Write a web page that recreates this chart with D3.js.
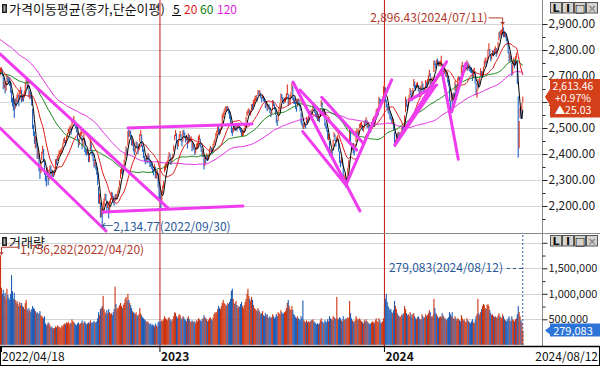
<!DOCTYPE html>
<html>
<head>
<meta charset="utf-8">
<script src="https://cdn.jsdelivr.net/npm/d3@7"></script>
<style>
  body { margin: 0; background: #fff; }
  svg { display: block; font-family: "Noto Sans CJK KR", "Noto Sans", sans-serif; }
</style>
</head>
<body>
<svg id="chart" width="600" height="366"></svg>
<script>
// closes before the first visible day (2021/10/25 - 2022/04/15), only used for the moving averages
const priorCloses = [
  3020,3049,3025,3009,2970,
  2983,2977,2975,2983,2969,2960,2962,2924,2929,2968,3000,2997,2962,2947,2971,3013,2997,2994,2936,2909,2922,2839,
  2899,2945,2968,2973,2991,3001,3029,3010,3002,2989,2987,2962,3006,2963,2975,2984,2998,3012,3020,2999,2993,2977,
  2988,2990,2953,2907,2954,2926,2927,2972,2962,2921,2890,2864,2842,2862,2834,2792,2720,2709,2614,2663,
  2757,2750,2707,2701,2768,2771,2747,2705,2676,2729,2745,2744,2743,2705,2719,2648,2676,2699,
  2703,2713,2680,2651,2622,2680,2661,2645,2621,2659,2707,2694,2686,2702,2729,2730,2736,2729,2741,2746,2757,
  2739,2757,2759,2735,2695,2700,2693,2666,2716,2716,2696
];

// daily closes, one row per month
const close2022 = [
  2693,2718,2718,2728,2705,2657,2668,2639,2667,2695,
  2687,2680,2677,2644,2610,2596,2592,2550,2604,2596,2620,2625,2592,2639,2647,2605,2617,2612,2638,2669,2685,
  2658,2670,2626,2626,2625,2595,2504,2492,2447,2451,2440,2391,2408,2342,2314,2366,2401,2422,2377,2332,
  2305,2300,2341,2292,2334,2350,2340,2317,2328,2322,2330,2375,2370,2386,2393,2403,2403,2412,2415,2435,2451,
  2452,2439,2461,2473,2490,2493,2503,2480,2523,2527,2533,2516,2508,2492,2462,2435,2447,2477,2481,2426,2450,2472,
  2415,2409,2403,2410,2376,2384,2449,2411,2401,2382,2355,2367,2347,2332,2290,2220,2223,2169,2170,2155,
  2209,2215,2237,2232,2192,2202,2162,2212,2219,2249,2237,2218,2213,2236,2235,2235,2251,2268,2293,
  2335,2336,2329,2348,2371,2399,2424,2402,2483,2474,2480,2477,2442,2444,2419,2405,2418,2441,2437,2408,2433,2472,
  2479,2434,2419,2393,2382,2371,2389,2373,2399,2372,2361,2360,2352,2333,2330,2356,2313,2317,2332,2280,2236
];
const close2023 = [
  2225,2219,2255,2264,2289,2350,2351,2359,2365,2386,2400,2379,2368,2380,2395,2428,2468,2484,2450,2425,
  2449,2468,2480,2454,2438,2483,2481,2469,2452,2465,2427,2475,2451,2455,2458,2417,2439,2423,2402,2412,
  2432,2432,2462,2463,2431,2419,2395,2410,2348,2379,2377,2395,2379,2389,2416,2424,2414,2410,2434,2443,2453,2476,
  2480,2500,2495,2478,2490,2512,2547,2550,2562,2571,2575,2572,2575,2563,2544,2524,2489,2485,2495,2501,
  2500,2502,2495,2509,2510,2497,2491,2475,2479,2480,2494,2515,2537,2557,2563,2566,2554,2558,2585,2577,
  2601,2601,2615,2615,2610,2641,2629,2637,2619,2608,2625,2609,2605,2582,2593,2570,2582,2581,2564,2550,2564,
  2602,2593,2579,2556,2526,2520,2562,2574,2591,2628,2619,2607,2600,2608,2609,2628,2637,2592,2603,2608,2632,
  2667,2616,2605,2602,2580,2573,2605,2601,2591,2570,2525,2519,2504,2508,2515,2505,2537,2519,2543,2552,2561,2556,
  2563,2584,2582,2563,2548,2547,2535,2536,2534,2572,2601,2574,2559,2560,2514,2508,2495,2462,2465,
  2405,2403,2408,2402,2450,2479,2456,2436,2460,2462,2415,2375,2357,2383,2363,2299,2302,2310,2277,
  2301,2343,2368,2502,2443,2421,2427,2409,2404,2433,2486,2488,2469,2491,2510,2511,2514,2496,2496,2521,2519,2535,
  2505,2514,2495,2494,2492,2518,2525,2535,2510,2545,2563,2566,2568,2614,2600,2599,2602,2613,2655
];
const close2024 = [
  2669,2607,2587,2578,2567,2561,2541,2540,2525,2525,2497,2435,2440,2472,2464,2478,2469,2470,2478,2500,2498,2497,
  2543,2615,2591,2576,2609,2620,2649,2620,2613,2648,2680,2657,2653,2664,2667,2647,2625,2658,2642,
  2675,2649,2641,2647,2680,2660,2682,2693,2718,2666,2685,2657,2690,2755,2748,2737,2757,2755,2745,2747,
  2747,2753,2706,2742,2715,2717,2705,2706,2681,2670,2609,2584,2634,2592,2629,2623,2676,2629,2656,2688,2692,
  2683,2676,2734,2745,2712,2727,2727,2730,2753,2725,2742,2724,2723,2721,2687,2722,2722,2677,2635,2636,
  2682,2662,2689,2722,2701,2705,2728,2754,2758,2744,2763,2797,2808,2784,2765,2774,2792,2784,2797,
  2804,2780,2794,2824,2862,2857,2867,2867,2891,2857,2860,2856,2843,2824,2795,2763,2774,2759,2710,2731,2765,2738,2770,
  2777,2676,2441,2522,2568,2556,2588.43,2613.46
];

// day high minus close
const highGap2022 = [
  12,6,15,6,22,40,12,30,5,6,
  14,12,18,35,35,20,22,40,8,20,8,12,35,6,12,42,10,15,6,5,8,
  25,10,40,15,15,28,70,20,40,18,25,45,12,55,35,8,8,10,42,40,
  25,15,8,45,6,8,15,20,10,12,10,5,12,6,8,10,12,8,10,6,8,
  12,15,8,8,6,10,8,22,5,8,13,15,12,15,25,25,10,5,12,45,8,6,
  40,15,12,10,30,12,8,35,15,20,25,10,18,20,40,55,25,45,20,30,
  8,15,10,15,30,15,35,8,12,6,15,20,12,8,12,10,8,6,6,
  6,12,15,8,8,6,6,20,5,20,10,12,30,12,25,18,8,6,10,25,6,5,
  12,40,15,25,12,12,6,18,5,25,15,12,12,18,12,5,38,12,6,45,40
];
const highGap2023 = [
  25,20,5,15,8,5,12,10,10,6,8,22,15,8,6,5,5,8,30,25,
  6,8,8,22,15,6,12,14,15,8,30,5,22,10,10,35,6,15,18,8,
  8,12,6,12,28,12,20,10,50,8,15,8,15,8,5,8,12,12,5,8,6,5,
  10,8,12,18,8,6,5,10,8,8,10,12,10,15,20,22,32,15,8,8,
  10,10,12,8,10,15,12,18,10,10,6,5,6,6,8,10,16,10,6,16,
  6,12,8,12,10,5,15,8,18,12,5,15,10,22,8,20,8,10,15,14,6,
  6,12,12,20,25,12,5,8,6,5,12,12,10,8,10,6,30,40,10,20,8,
  8,45,15,12,20,10,5,10,12,20,35,12,14,10,8,12,5,15,5,8,6,10,
  10,6,12,18,15,10,12,10,10,5,6,25,15,10,40,12,14,30,12,
  45,15,10,12,6,5,20,18,6,10,40,35,18,6,20,55,12,12,30,
  10,5,8,5,50,20,12,15,12,6,5,10,18,6,6,10,10,16,12,5,12,6,
  25,10,18,10,10,5,10,8,22,5,8,10,10,6,14,10,10,8,5
];
const highGap2024 = [
  8,50,22,15,15,12,18,12,15,12,25,50,15,6,16,8,15,10,8,5,10,15,
  6,5,20,14,5,8,5,25,12,5,8,22,12,8,10,18,20,5,15,
  6,22,12,10,5,18,6,10,6,45,8,25,6,5,12,12,6,12,12,10,
  12,25,40,6,25,12,15,10,22,15,50,22,5,40,6,15,5,40,8,5,8,
  14,14,5,10,30,8,12,10,8,28,6,18,12,12,30,5,10,40,38,12,
  6,20,6,8,18,12,8,6,12,15,8,5,18,20,18,10,6,14,8,
  10,28,8,6,6,15,10,12,5.43,30,12,12,14,20,25,30,12,18,40,12,6,25,6,
  12,85,180,5,10,25,8,8
];

// close minus day low
const lowGap2022 = [
  14,25,12,14,6,8,14,6,25,26,
  10,12,15,8,10,12,25,12,30,14,20,10,8,30,14,6,14,10,22,28,12,
  8,18,8,15,12,8,8,22,8,30,15,10,25,8,10,40,25,20,8,12,
  10,25,30,12,35,15,10,8,15,10,12,35,10,12,10,10,10,12,10,15,12,
  10,8,18,10,12,12,10,6,30,10,10,8,10,8,8,10,12,20,12,8,18,18,
  8,12,10,12,8,15,35,8,10,10,8,15,8,12,10,10,15,14,12,20.23,
  40,15,18,10,8,10,10,35,10,25,8,8,12,18,12,10,12,15,18,
  30,12,10,15,18,20,20,8,50,10,12,10,8,12,8,10,12,15,10,8,20,25,
  10,6,10,8,10,10,15,10,20,6,10,10,10,6,12,22,6,12,14,8,15
];
const lowGap2023 = [
  12,38,40,15,20,20,12,12,15,15,10,6,10,12,12,18,15,15,6,8,
  20,15,12,6,8,35,10,8,8,12,6,35,6,10,10,6,18,8,6,10,
  15,10,25,10,6,10,6,20,8,25,12,15,6,10,20,8,8,8,20,8,10,18,
  10,18,10,6,12,20,30,12,12,10,8,8,10,8,8,8,8,15,12,10,
  12,12,8,12,10,6,8,6,12,10,12,15,15,12,10,10,6,10,18,8,
  18,10,12,10,8,20,6,10,6,8,12,6,8,6,10,6,12,8,6,8,12,
  30,8,8,6,6,12,35,10,12,30,8,6,8,10,10,15,10,8,12,15,18,
  25,8,12,10,6,10,22,10,8,6,8,10,8,12,10,8,20,6,18,8,10,8,
  10,15,10,6,6,10,8,10,12,30,18,6,8,10,6,10,8,6,12,
  12,12,12,8,25,15,6,8,15,10,6,8,8,18,8,8,15,10,8,
  25,35,20,65,10,8,12,6,10,20,40,10,6,15,12,10,10,6,10,20,8,15,
  6,12,6,10,10,22,10,12,6,28,15,10,10,35,8,10,10,10,35
];
const lowGap2024 = [
  15,6,8,8,10,8,6,10,6,10,8,6,12,25,8,12,8,10,10,15,10,14,
  40,55,8,8,25,10,22,6,10,25,20,6,10,10,10,6,6,25,6,
  25,6,8,10,25,6,18,10,20,6,15,6,25,40,8,8,15,10,8,8,
  10,8,6,25,6,10,8,12,6,10,6,25,30,33,25,8,35,8,18,25,10,
  8,12,45,10,6,12,10,10,18,6,15,6,10,10,6,30,10,6,8,20,
  35,8,20,25,8,10,18,20,10,8,12,28,10,6,8,10,15,8,12,
  10,6,12,25,25,10,10,12,25,8,10,8,8,6,8,8,15,6,10,25,25,8,25,
  10,8,55,100,30,20,20,15
];

// volume, thousands of shares
const vol2022 = [
  1050,1180,1756.282,1120,1000,1080,960,1020,900,1100,
  980,920,880,1000,1366,1050,900,1020,880,820,860,800,760,840,780,820,760,740,700,820,880,
  700,660,720,680,640,700,760,720,700,660,620,640,600,620,660,580,560,540,520,560,
  420,380,400,440,420,380,340,360,330,320,330,360,340,380,360,350,320,340,380,360,400,
  420,400,440,420,450,400,430,420,500,460,450,420,400,380,420,440,400,420,430,480,420,440,
  460,420,400,420,440,420,480,440,420,450,470,430,440,460,520,640,580,700,720,760,
  960,700,640,600,680,620,700,640,600,620,580,640,700,1140,800,720,700,740,780,
  820,760,720,780,820,900,940,860,1000,880,820,780,720,660,640,620,600,640,580,560,600,720,
  620,580,540,520,500,480,460,440,460,420,400,420,380,400,380,360,420,380,360,440,460
];
const vol2023 = [
  420,460,480,460,500,560,520,500,480,520,540,500,480,460,500,560,640,620,560,520,
  560,600,580,520,500,560,540,500,480,460,520,560,500,460,440,480,460,440,460,420,
  480,460,520,500,480,460,500,520,580,540,520,500,460,480,520,540,500,480,540,600,640,620,
  640,700,760,720,700,760,820,880,820,800,760,780,820,800,840,900,1060,1100,900,800,
  820,860,780,720,760,740,800,840,760,720,780,840,900,1000,1100,960,900,860,940,880,
  780,720,700,680,660,720,680,640,600,620,660,580,560,620,580,600,540,520,560,520,540,
  600,560,520,540,600,560,640,620,600,680,640,600,620,640,660,720,820,880,760,700,680,
  760,680,600,580,540,520,560,520,500,480,560,520,870,480,460,440,480,440,460,440,460,480,
  480,500,460,440,420,400,420,400,420,480,520,460,440,420,480,460,440,500,460,
  560,520,500,480,560,540,520,500,940,520,500,540,520,480,460,560,500,480,520,
  500,540,520,860,620,520,480,460,440,480,560,520,480,500,520,480,460,440,420,480,460,500,
  460,440,420,400,420,440,460,440,420,480,520,460,440,520,480,420,440,460,520
];
const vol2024 = [
  820,900,1000,840,760,720,680,700,640,620,680,860,760,700,620,580,560,540,560,600,580,620,
  760,700,620,580,600,560,640,600,540,600,620,560,520,500,540,560,520,500,480,
  600,560,520,540,600,560,580,620,680,640,560,540,580,900,720,620,600,560,520,540,
  560,540,620,580,540,520,500,480,520,540,640,600,560,640,520,500,560,520,480,520,500,
  480,460,580,520,480,500,460,440,520,480,460,440,420,460,500,440,420,480,560,600,
  900,620,580,640,700,760,800,780,720,700,780,800,760,680,620,580,600,560,540,
  560,540,520,580,620,560,540,520,600,560,500,480,460,480,520,560,480,460,560,500,480,460,500,
  520,600,760,640,560,480,440,279.083
];

const firstDate = '2022/04/18';
const lastDate = '2024/08/12';
const yearLabels = ['2023', '2024'];
const priceTicks = [2200, 2300, 2400, 2500, 2600, 2700, 2800, 2900];
const priceMinorTicks = [2150, 2250, 2350, 2450, 2550, 2650, 2750, 2850];
const volumeTicks = [500000, 1000000, 1500000];
const volumeMinorTicks = [750000, 1250000, 1750000];
const volumeGrid = [500000, 1000000, 1500000, 2000000];
const maPeriods = [5, 20, 60, 120];
const maColors = ['#000000', '#e01818', '#0c800c', '#e020e0'];

// hand-drawn trend lines: [day index, price] pairs
const trendLines = [
  [[1.4, 2500], [117.1, 2104]],
  [[1.4, 2785], [184.8, 2192]],
  [[141.1, 2500], [276.4, 2515]],
  [[113.8, 2177], [266.6, 2200]],
  [[321.2, 2677], [394.3, 2181]],
  [[331.8, 2486], [379.0, 2281]],
  [[379.0, 2281], [428.9, 2685]],
  [[352.5, 2618], [397.9, 2441]],
  [[328.8, 2646], [390.7, 2415]],
  [[432.5, 2435], [488.9, 2755]],
  [[432.5, 2435], [476.1, 2659]],
  [[448.9, 2608], [478.0, 2665]],
  [[483.5, 2723], [501.6, 2380]],
  [[494.4, 2563], [510.0, 2749]]
];

const closes = [...close2022, ...close2023, ...close2024];
const highGaps = [...highGap2022, ...highGap2023, ...highGap2024];
const lowGaps = [...lowGap2022, ...lowGap2023, ...lowGap2024];
const volumes = [...vol2022, ...vol2023, ...vol2024];
const allCloses = [...priorCloses, ...closes];
const N = closes.length;

const days = closes.map((c, i) => ({
  i,
  close: c,
  high: c + highGaps[i],
  low: c - lowGaps[i],
  volume: volumes[i] * 1000,
  up: c >= allCloses[i + priorCloses.length - 1],
}));

const movingAverage = (period) => closes.map((c, i) => {
  const end = i + priorCloses.length;
  const start = end - period + 1;
  if (start < 0) return null;
  return d3.mean(allCloses.slice(start, end + 1));
});

const UP = '#e2321a';
const DOWN = '#2064c4';
const PLOT_RIGHT = 542;
const GRID = '#d4d4d4';

const svg = d3.select('#chart');
const x = d3.scaleLinear().domain([0, N - 1]).range([-1.3, 522.8]);
const yPrice = d3.scaleLinear().domain([2200, 2900]).range([206, 24]);
const yVol = d3.scaleLinear().domain([0, 2000000]).range([344.8, 242.8]);

const defs = svg.append('defs');
defs.append('clipPath').attr('id', 'clipPrice')
  .append('rect').attr('x', 0).attr('y', 0).attr('width', PLOT_RIGHT).attr('height', 233);
defs.append('clipPath').attr('id', 'clipVol')
  .append('rect').attr('x', 0).attr('y', 234).attr('width', PLOT_RIGHT).attr('height', 111);

// grid
svg.append('g').selectAll('line').data(priceTicks).join('line')
  .attr('x1', 0).attr('x2', PLOT_RIGHT)
  .attr('y1', d => Math.round(yPrice(d)) + 0.5).attr('y2', d => Math.round(yPrice(d)) + 0.5)
  .attr('stroke', GRID);
svg.append('g').selectAll('line').data(volumeGrid).join('line')
  .attr('x1', 0).attr('x2', PLOT_RIGHT)
  .attr('y1', d => Math.round(yVol(d)) + 0.5).attr('y2', d => Math.round(yVol(d)) + 0.5)
  .attr('stroke', GRID);

// year separators
const yearStarts = [close2022.length, close2022.length + close2023.length];
svg.append('g').selectAll('line').data(yearStarts).join('line')
  .attr('x1', d => x(d)).attr('x2', d => x(d))
  .attr('y1', 0).attr('y2', 346)
  .attr('stroke', '#c81414').attr('stroke-width', 1);

// price panel
const priceG = svg.append('g').attr('clip-path', 'url(#clipPrice)');
priceG.append('g').selectAll('line').data(days).join('line')
  .attr('x1', d => x(d.i)).attr('x2', d => x(d.i))
  .attr('y1', d => yPrice(d.high)).attr('y2', d => yPrice(d.low))
  .attr('stroke', d => d.up ? UP : DOWN).attr('stroke-width', 1.1);

const maLine = d3.line()
  .defined(d => d != null)
  .x((d, i) => x(i))
  .y(d => yPrice(d));
[3, 2, 1, 0].forEach(k => {
  priceG.append('path')
    .datum(movingAverage(maPeriods[k]))
    .attr('fill', 'none')
    .attr('stroke', maColors[k])
    .attr('stroke-width', 1)
    .attr('d', maLine);
});

priceG.append('g').selectAll('line').data(trendLines).join('line')
  .attr('x1', d => x(d[0][0])).attr('y1', d => yPrice(d[0][1]))
  .attr('x2', d => x(d[1][0])).attr('y2', d => yPrice(d[1][1]))
  .attr('stroke', '#ee3cee').attr('stroke-width', 3).attr('stroke-linecap', 'round');

// volume panel
const volG = svg.append('g').attr('clip-path', 'url(#clipVol)');
volG.selectAll('rect').data(days).join('rect')
  .attr('x', d => x(d.i) - 0.55).attr('width', 1.1)
  .attr('y', d => yVol(d.volume)).attr('height', d => yVol(0) - yVol(d.volume))
  .attr('fill', d => d.up ? '#cc3410' : '#1e5cb6');

// frames
svg.append('line').attr('x1', 0).attr('x2', 600).attr('y1', 233.5).attr('y2', 233.5).attr('stroke', '#8a8a8a');
svg.append('line').attr('x1', PLOT_RIGHT + 0.5).attr('x2', PLOT_RIGHT + 0.5).attr('y1', 0).attr('y2', 346).attr('stroke', '#8a8a8a');
svg.append('rect').attr('x', 0.5).attr('y', 346.5).attr('width', 599).attr('height', 19)
  .attr('fill', 'none').attr('stroke', '#000');
svg.append('line').attr('x1', 0).attr('x2', 600).attr('y1', 346.5).attr('y2', 346.5).attr('stroke', '#000').attr('stroke-width', 1.5);

// right axes
const fmtPrice = d3.format(',.2f');
svg.append('g').attr('class', 'pAxis').attr('transform', `translate(${PLOT_RIGHT + 0.5},0)`)
  .call(d3.axisRight(yPrice).tickValues(priceTicks).tickSize(5).tickPadding(1).tickFormat(fmtPrice));
svg.append('g').attr('transform', `translate(${PLOT_RIGHT + 0.5},0)`)
  .call(d3.axisRight(yPrice).tickValues(priceMinorTicks).tickSize(3).tickFormat(''));
svg.append('g').attr('class', 'vAxis').attr('transform', `translate(${PLOT_RIGHT + 0.5},0)`)
  .call(d3.axisRight(yVol).tickValues(volumeTicks).tickSize(5).tickPadding(1).tickFormat(d3.format(',')));
svg.append('g').attr('transform', `translate(${PLOT_RIGHT + 0.5},0)`)
  .call(d3.axisRight(yVol).tickValues(volumeMinorTicks).tickSize(3).tickFormat(''));
svg.append('g').attr('transform', `translate(${PLOT_RIGHT + 0.5},0)`)
  .call(d3.axisRight(yVol).tickValues([2000000]).tickSize(5).tickFormat(''));
svg.selectAll('.domain').remove();
svg.selectAll('.tick line').attr('stroke', '#222');
svg.selectAll('.tick text').attr('fill', '#222')
  .attr('font-family', '"Noto Sans CJK KR", sans-serif');
svg.selectAll('.pAxis .tick text').attr('font-size', 12);
svg.selectAll('.vAxis .tick text').attr('font-size', 11);

// bottom labels
const bottom = svg.append('g').attr('font-size', 12).attr('fill', '#111');
bottom.append('text').attr('x', 2).attr('y', 361).text(firstDate);
bottom.append('text').attr('x', 598).attr('y', 361).attr('text-anchor', 'end').text(lastDate);
bottom.selectAll('text.year').data(yearStarts).join('text')
  .attr('class', 'year')
  .attr('x', d => x(d) + 1).attr('y', 361).attr('font-weight', 'bold')
  .text((d, k) => yearLabels[k]);
bottom.selectAll('line').data([0, ...yearStarts]).join('line')
  .attr('x1', d => Math.max(1.5, x(d))).attr('x2', d => Math.max(1.5, x(d)))
  .attr('y1', 346).attr('y2', 352).attr('stroke', '#000');

// legend
const legend = svg.append('g').attr('font-size', 13);
legend.append('rect').attr('x', 2).attr('y', 4).attr('width', 5).attr('height', 9).attr('fill', '#222');
legend.append('rect').attr('x', 3.5).attr('y', 5.5).attr('width', 2).attr('height', 6).attr('fill', '#aaa');
legend.append('text').attr('x', 9).attr('y', 13.5).attr('fill', '#111').text('가격이동평균(종가,단순이평)');
const legendX = [173, 184, 200, 217];
maPeriods.forEach((p, k) => {
  legend.append('text').attr('x', legendX[k]).attr('y', 13.5).attr('font-size', 12)
    .attr('fill', maColors[k]).text(p);
});
legend.append('line').attr('x1', 172).attr('x2', 181).attr('y1', 15.5).attr('y2', 15.5).attr('stroke', '#000');

const volLegend = svg.append('g').attr('font-size', 13);
volLegend.append('rect').attr('x', 2).attr('y', 237).attr('width', 5).attr('height', 9).attr('fill', '#222');
volLegend.append('rect').attr('x', 3.5).attr('y', 238.5).attr('width', 2).attr('height', 6).attr('fill', '#aaa');
volLegend.append('text').attr('x', 9).attr('y', 246.5).attr('fill', '#111').text('거래량');

// high / low markers
const hiDay = days.reduce((a, b) => (b.high > a.high ? b : a));
const loDay = days.reduce((a, b) => (b.low < a.low ? b : a));
const ann = svg.append('g').attr('font-size', 12);
const hx = x(hiDay.i), hy = yPrice(hiDay.high);
ann.append('text').attr('x', hx - 15).attr('y', hy - 2.5).attr('text-anchor', 'end').attr('fill', '#b0382a')
  .text('2,896.43(2024/07/11)');
ann.append('path').attr('d', `M${hx - 14},${hy - 7}H${hx}V${hy - 1}`).attr('fill', 'none').attr('stroke', '#b0382a');
ann.append('path').attr('d', `M${hx - 2.5},${hy - 3}L${hx + 2.5},${hy - 3}L${hx},${hy}Z`).attr('fill', '#b0382a');

const lx = x(loDay.i), ly = yPrice(loDay.low);
ann.append('path').attr('d', `M${lx},${ly}V${ly + 4}`).attr('stroke', '#2a5a9c');
ann.append('text').attr('x', lx - 1).attr('y', ly + 8).attr('fill', '#2a5a9c')
  .text('←2,134.77(2022/09/30)');

const maxVolDay = days.reduce((a, b) => (b.volume > a.volume ? b : a));
const mvx = Math.max(1.5, x(maxVolDay.i)), mvy = yVol(maxVolDay.volume);
ann.append('path').attr('d', `M18,${mvy - 8}H${mvx}V${mvy - 2}`).attr('fill', 'none').attr('stroke', '#b0382a');
ann.append('path').attr('d', `M${mvx - 2},${mvy - 3}L${mvx + 2},${mvy - 3}L${mvx},${mvy}Z`).attr('fill', '#b0382a');
ann.append('text').attr('x', 20).attr('y', mvy - 1.5).attr('fill', '#b0382a').text('1,756,282(2022/04/20)');

const last = days[N - 1];
const lvx = x(last.i);
ann.append('text').attr('x', 503).attr('y', 271.5).attr('text-anchor', 'end').attr('fill', '#2a5a9c')
  .text('279,083(2024/08/12)');
ann.append('line').attr('x1', 507).attr('x2', lvx).attr('y1', 268.5).attr('y2', 268.5)
  .attr('stroke', '#2a5a9c').attr('stroke-dasharray', '3,3');
ann.append('line').attr('x1', lvx).attr('x2', lvx).attr('y1', 235).attr('y2', 345)
  .attr('stroke', '#2a5a9c').attr('stroke-dasharray', '2,2');

// current price tag
const tagY = yPrice(last.close) - 1.5;
const prevClose = closes[N - 2];
const tag = svg.append('g');
tag.append('path')
  .attr('d', `M550,${tagY - 18}H600V${tagY + 20.5}H550V${tagY + 8}L545,${tagY}L550,${tagY - 8}Z`)
  .attr('fill', '#d4401a');
const tagLines = [
  d3.format(',.2f')(last.close),
  '+' + d3.format('.2f')((last.close - prevClose) / prevClose * 100) + '%',
  '▲' + d3.format('.2f')(last.close - prevClose),
];
tag.selectAll('text').data(tagLines).join('text')
  .attr('x', 573).attr('y', (d, k) => tagY - 7 + k * 12)
  .attr('text-anchor', 'middle').attr('font-size', 10.5).attr('fill', '#fff')
  .text(d => d);

const vTagY = yVol(last.volume);
svg.append('path')
  .attr('d', `M550,${vTagY - 7}H600V${vTagY + 6}H550V${vTagY + 4}L545,${vTagY}L550,${vTagY - 4}Z`)
  .attr('fill', '#2c74d8');
svg.append('text').attr('x', 573).attr('y', vTagY + 4).attr('text-anchor', 'middle')
  .attr('font-size', 11).attr('fill', '#fff').text(d3.format(',')(Math.round(last.volume)));

// window buttons
const buttons = ['L', 'I', '□', '×'];
[2, 235].forEach(top => {
  const b = svg.append('g').attr('transform', `translate(550,${top})`);
  buttons.forEach((t, k) => {
    b.append('rect').attr('x', k * 12 + 0.5).attr('y', 0.5).attr('width', 11).attr('height', 10.5)
      .attr('fill', '#d6d3ce').attr('stroke', '#555');
    b.append('text').attr('x', k * 12 + 6).attr('y', 9.5).attr('text-anchor', 'middle')
      .attr('font-size', 11).attr('font-weight', 'bold').attr('font-family', 'DejaVu Sans')
      .attr('fill', k === 3 ? '#888' : '#111').text(t);
  });
});
</script>
</body>
</html>
